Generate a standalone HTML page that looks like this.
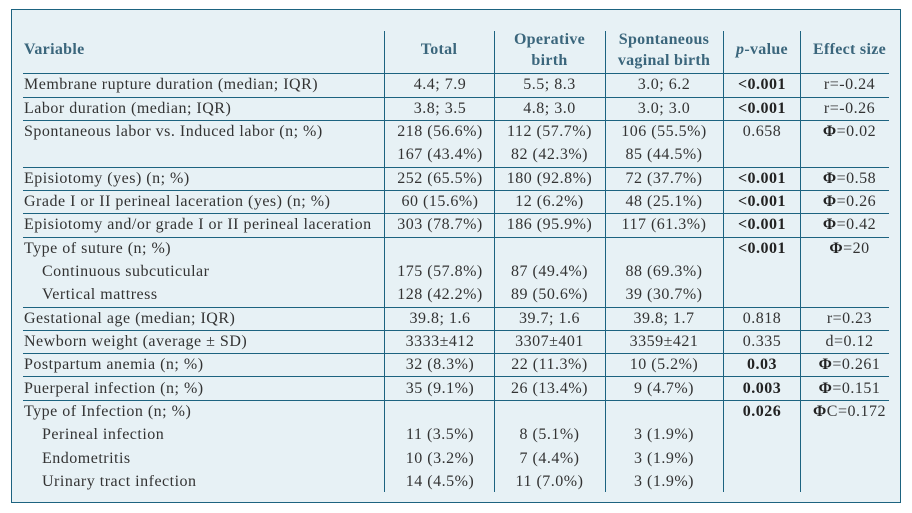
<!DOCTYPE html>
<html>
<head>
<meta charset="utf-8">
<style>
  html, body { margin:0; padding:0; background:#fff; }
  #wrap { position:relative; width:912px; height:513px; overflow:hidden; background:#fff;
    font-family:"Liberation Serif", "DejaVu Serif", serif; }
  #box { position:absolute; left:11px; top:9px; width:890px; height:494px; box-sizing:border-box;
    border:1px solid #1d6380; background:#e7f1f5; }
  .h { position:absolute; left:23px; width:866px; height:1px; background:#1d6380; }
  .v { position:absolute; top:31px; height:461px; width:1px; background:#1d6380; }
  .t { position:absolute; height:23.33px; line-height:23.33px; font-size:16px; color:#333;
    letter-spacing:0.5px; white-space:nowrap; }
  .hd { position:absolute; font-size:16px; font-weight:bold; color:#3b667c; letter-spacing:0.3px;
    white-space:nowrap; text-align:center; }
  .c0 { left:24px; }
  .ind { left:42px; }
  .c1 { left:384px; width:112px; text-align:center; }
  .c2 { left:494px; width:111px; text-align:center; }
  .c3 { left:605px; width:118px; text-align:center; }
  .c4 { left:723px; width:78px; text-align:center; }
  .c5 { left:810px; width:79px; text-align:center; }
  b { font-weight:bold; color:#222; }
</style>
</head>
<body>
<div id="wrap">
  <div id="box"></div>

  <!-- vertical lines -->
  <div class="v" style="left:384px"></div>
  <div class="v" style="left:494px"></div>
  <div class="v" style="left:605px"></div>
  <div class="v" style="left:723px"></div>
  <div class="v" style="left:800px"></div>

  <!-- horizontal lines -->
  <div class="h" style="top:73px"></div>
  <div class="h" style="top:97px"></div>
  <div class="h" style="top:120px"></div>
  <div class="h" style="top:167px"></div>
  <div class="h" style="top:190px"></div>
  <div class="h" style="top:213px"></div>
  <div class="h" style="top:237px"></div>
  <div class="h" style="top:307px"></div>
  <div class="h" style="top:330px"></div>
  <div class="h" style="top:353px"></div>
  <div class="h" style="top:376px"></div>
  <div class="h" style="top:400px"></div>

  <!-- header -->
  <div class="hd" style="left:24px; top:39.6px; line-height:20px; text-align:left;">Variable</div>
  <div class="hd" style="left:384px; width:110px; top:39.6px; line-height:20px;">Total</div>
  <div class="hd" style="left:494px; width:111px; top:29.1px; line-height:21px;">Operative<br>birth</div>
  <div class="hd" style="left:605px; width:118px; top:29.1px; line-height:21px;">Spontaneous<br>vaginal birth</div>
  <div class="hd" style="left:723px; width:78px; top:39.6px; line-height:20px;"><i>p</i>-value</div>
  <div class="hd" style="left:810px; width:79px; top:39.6px; line-height:20px;">Effect size</div>

  <!-- row 0 -->
  <div class="t c0" style="top:73.33px">Membrane rupture duration (median; IQR)</div>
  <div class="t c1" style="top:73.33px">4.4; 7.9</div>
  <div class="t c2" style="top:73.33px">5.5; 8.3</div>
  <div class="t c3" style="top:73.33px">3.0; 6.2</div>
  <div class="t c4" style="top:73.33px"><b>&lt;0.001</b></div>
  <div class="t c5" style="top:73.33px">r=-0.24</div>

  <!-- row 1 -->
  <div class="t c0" style="top:96.67px">Labor duration (median; IQR)</div>
  <div class="t c1" style="top:96.67px">3.8; 3.5</div>
  <div class="t c2" style="top:96.67px">4.8; 3.0</div>
  <div class="t c3" style="top:96.67px">3.0; 3.0</div>
  <div class="t c4" style="top:96.67px"><b>&lt;0.001</b></div>
  <div class="t c5" style="top:96.67px">r=-0.26</div>

  <!-- row 2-3 -->
  <div class="t c0" style="top:120px">Spontaneous labor vs. Induced labor (n; %)</div>
  <div class="t c1" style="top:120px">218 (56.6%)</div>
  <div class="t c2" style="top:120px">112 (57.7%)</div>
  <div class="t c3" style="top:120px">106 (55.5%)</div>
  <div class="t c4" style="top:120px">0.658</div>
  <div class="t c5" style="top:120px"><b>Φ</b>=0.02</div>
  <div class="t c1" style="top:143.33px">167 (43.4%)</div>
  <div class="t c2" style="top:143.33px">82 (42.3%)</div>
  <div class="t c3" style="top:143.33px">85 (44.5%)</div>

  <!-- row 4 -->
  <div class="t c0" style="top:166.67px">Episiotomy (yes) (n; %)</div>
  <div class="t c1" style="top:166.67px">252 (65.5%)</div>
  <div class="t c2" style="top:166.67px">180 (92.8%)</div>
  <div class="t c3" style="top:166.67px">72 (37.7%)</div>
  <div class="t c4" style="top:166.67px"><b>&lt;0.001</b></div>
  <div class="t c5" style="top:166.67px"><b>Φ</b>=0.58</div>

  <!-- row 5 -->
  <div class="t c0" style="top:190px">Grade I or II perineal laceration (yes) (n; %)</div>
  <div class="t c1" style="top:190px">60 (15.6%)</div>
  <div class="t c2" style="top:190px">12 (6.2%)</div>
  <div class="t c3" style="top:190px">48 (25.1%)</div>
  <div class="t c4" style="top:190px"><b>&lt;0.001</b></div>
  <div class="t c5" style="top:190px"><b>Φ</b>=0.26</div>

  <!-- row 6 -->
  <div class="t c0" style="top:213.33px">Episiotomy and/or grade I or II perineal laceration</div>
  <div class="t c1" style="top:213.33px">303 (78.7%)</div>
  <div class="t c2" style="top:213.33px">186 (95.9%)</div>
  <div class="t c3" style="top:213.33px">117 (61.3%)</div>
  <div class="t c4" style="top:213.33px"><b>&lt;0.001</b></div>
  <div class="t c5" style="top:213.33px"><b>Φ</b>=0.42</div>

  <!-- row 7-9 -->
  <div class="t c0" style="top:236.67px">Type of suture (n; %)</div>
  <div class="t c4" style="top:236.67px"><b>&lt;0.001</b></div>
  <div class="t c5" style="top:236.67px"><b>Φ</b>=20</div>
  <div class="t ind" style="top:260px">Continuous subcuticular</div>
  <div class="t c1" style="top:260px">175 (57.8%)</div>
  <div class="t c2" style="top:260px">87 (49.4%)</div>
  <div class="t c3" style="top:260px">88 (69.3%)</div>
  <div class="t ind" style="top:283.33px">Vertical mattress</div>
  <div class="t c1" style="top:283.33px">128 (42.2%)</div>
  <div class="t c2" style="top:283.33px">89 (50.6%)</div>
  <div class="t c3" style="top:283.33px">39 (30.7%)</div>

  <!-- row 10 -->
  <div class="t c0" style="top:306.67px">Gestational age (median; IQR)</div>
  <div class="t c1" style="top:306.67px">39.8; 1.6</div>
  <div class="t c2" style="top:306.67px">39.7; 1.6</div>
  <div class="t c3" style="top:306.67px">39.8; 1.7</div>
  <div class="t c4" style="top:306.67px">0.818</div>
  <div class="t c5" style="top:306.67px">r=0.23</div>

  <!-- row 11 -->
  <div class="t c0" style="top:330px">Newborn weight (average ± SD)</div>
  <div class="t c1" style="top:330px">3333±412</div>
  <div class="t c2" style="top:330px">3307±401</div>
  <div class="t c3" style="top:330px">3359±421</div>
  <div class="t c4" style="top:330px">0.335</div>
  <div class="t c5" style="top:330px">d=0.12</div>

  <!-- row 12 -->
  <div class="t c0" style="top:353.33px">Postpartum anemia (n; %)</div>
  <div class="t c1" style="top:353.33px">32 (8.3%)</div>
  <div class="t c2" style="top:353.33px">22 (11.3%)</div>
  <div class="t c3" style="top:353.33px">10 (5.2%)</div>
  <div class="t c4" style="top:353.33px"><b>0.03</b></div>
  <div class="t c5" style="top:353.33px"><b>Φ</b>=0.261</div>

  <!-- row 13 -->
  <div class="t c0" style="top:376.67px">Puerperal infection (n; %)</div>
  <div class="t c1" style="top:376.67px">35 (9.1%)</div>
  <div class="t c2" style="top:376.67px">26 (13.4%)</div>
  <div class="t c3" style="top:376.67px">9 (4.7%)</div>
  <div class="t c4" style="top:376.67px"><b>0.003</b></div>
  <div class="t c5" style="top:376.67px"><b>Φ</b>=0.151</div>

  <!-- row 14-17 -->
  <div class="t c0" style="top:400px">Type of Infection (n; %)</div>
  <div class="t c4" style="top:400px"><b>0.026</b></div>
  <div class="t c5" style="top:400px"><b>Φ</b>C=0.172</div>
  <div class="t ind" style="top:423.33px">Perineal infection</div>
  <div class="t c1" style="top:423.33px">11 (3.5%)</div>
  <div class="t c2" style="top:423.33px">8 (5.1%)</div>
  <div class="t c3" style="top:423.33px">3 (1.9%)</div>
  <div class="t ind" style="top:446.67px">Endometritis</div>
  <div class="t c1" style="top:446.67px">10 (3.2%)</div>
  <div class="t c2" style="top:446.67px">7 (4.4%)</div>
  <div class="t c3" style="top:446.67px">3 (1.9%)</div>
  <div class="t ind" style="top:470px">Urinary tract infection</div>
  <div class="t c1" style="top:470px">14 (4.5%)</div>
  <div class="t c2" style="top:470px">11 (7.0%)</div>
  <div class="t c3" style="top:470px">3 (1.9%)</div>
</div>
</body>
</html>
